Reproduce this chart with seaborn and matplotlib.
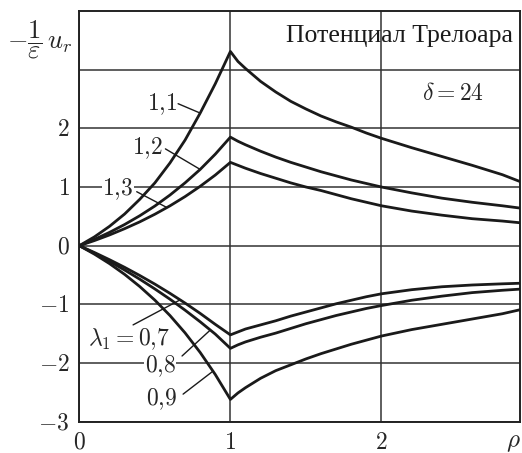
import numpy as np
import pandas as pd
import matplotlib
matplotlib.use("Agg")
import matplotlib.pyplot as plt
import seaborn as sns

# ---------------- data ----------------
rho = [0, 0.1, 0.2, 0.3, 0.4, 0.5, 0.6, 0.7, 0.8, 0.9, 1.0,
       1.05, 1.1, 1.2, 1.3, 1.4, 1.5, 1.6, 1.7, 1.8, 1.9, 2.0,
       2.2, 2.4, 2.6, 2.8, 2.92]

u_11 = [0, 0.15, 0.33, 0.54, 0.79, 1.07, 1.41, 1.80, 2.26, 2.76, 3.31,
        3.14, 3.02, 2.80, 2.62, 2.46, 2.33, 2.21, 2.11, 2.02, 1.92, 1.83,
        1.67, 1.52, 1.37, 1.21, 1.09]
u_12 = [0, 0.107, 0.227, 0.361, 0.51, 0.676, 0.863, 1.071, 1.30, 1.56, 1.85,
        1.78, 1.72, 1.61, 1.51, 1.42, 1.34, 1.26, 1.19, 1.12, 1.06, 1.00,
        0.90, 0.81, 0.74, 0.68, 0.64]
u_13 = [0, 0.087, 0.183, 0.29, 0.406, 0.536, 0.679, 0.837, 1.012, 1.204, 1.42,
        1.37, 1.32, 1.23, 1.15, 1.07, 1.00, 0.94, 0.87, 0.80, 0.74, 0.68,
        0.59, 0.52, 0.46, 0.42, 0.39]
u_07 = [0, -0.116, -0.239, -0.369, -0.508, -0.655, -0.812, -0.978, -1.154, -1.341, -1.52,
        -1.47, -1.42, -1.35, -1.28, -1.20, -1.13, -1.06, -0.99, -0.93, -0.87, -0.82,
        -0.75, -0.70, -0.67, -0.65, -0.64]
u_08 = [0, -0.13, -0.268, -0.415, -0.571, -0.737, -0.912, -1.099, -1.297, -1.507, -1.75,
        -1.69, -1.64, -1.56, -1.49, -1.41, -1.33, -1.26, -1.19, -1.13, -1.07, -1.02,
        -0.93, -0.86, -0.80, -0.76, -0.74]
u_09 = [0, -0.144, -0.306, -0.489, -0.696, -0.928, -1.19, -1.486, -1.82, -2.196, -2.62,
        -2.51, -2.42, -2.26, -2.13, -2.03, -1.93, -1.84, -1.76, -1.68, -1.61, -1.54,
        -1.43, -1.34, -1.25, -1.16, -1.09]

lambdas = ["1,1", "1,2", "1,3", "0,7", "0,8", "0,9"]
series = [u_11, u_12, u_13, u_07, u_08, u_09]

x_ticks = [0, 1, 2]
x_ticklabels = ["$0$", "$1$", "$2$"]
y_ticks = [-3, -2, -1, 0, 1, 2, 3]
y_ticklabels = ["$-3$", "$-2$", "$-1$", "$0$", "$1$", "$2$", ""]

curve_labels = ["$1{,}1$", "$1{,}2$", "$1{,}3$",
                r"$\lambda_1 = 0{,}7$", "$0{,}8$", "$0{,}9$"]

# ---------------- build table ----------------
df = pd.concat(
    [pd.DataFrame({"rho": rho, "u": s, "lam": lam})
     for lam, s in zip(lambdas, series)],
    ignore_index=True,
)

# ---------------- style ----------------
sns.set_theme(style="white")
plt.rcParams["mathtext.fontset"] = "cm"
plt.rcParams["font.family"] = ["Liberation Serif", "DejaVu Serif"]

fig = plt.figure(figsize=(5.22, 4.53), dpi=100)
ax = fig.add_axes([79.3 / 522, 31.3 / 453, (520.5 - 79.3) / 522, (421.7 - 11) / 453])

sns.lineplot(data=df, x="rho", y="u", units="lam", estimator=None, sort=False,
             color="#1a1a1a", lw=2.0, ax=ax, legend=False, zorder=3)

ax.set_xlim(0, 2.92)
ax.set_ylim(-3, 4)
ax.set_xticks(x_ticks)
ax.set_xticklabels(x_ticklabels, fontsize=17)
ax.set_yticks(y_ticks)
ax.set_yticklabels(y_ticklabels, fontsize=17)
ax.tick_params(axis="both", length=0)
ax.tick_params(axis="x", pad=8)
ax.tick_params(axis="y", pad=7)
ax.set_xlabel("")
ax.set_ylabel("")
ax.grid(True, color="#333333", lw=1.1, zorder=1)
for sp in ax.spines.values():
    sp.set_visible(True)
    sp.set_color("#222222")
    sp.set_linewidth(1.4)

# curve labels with leader lines
label_pos = [(0.548, 2.42), (0.448, 1.66), (0.256, 0.97),
             (0.329, -1.59), (0.535, -2.05), (0.542, -2.62)]
leaders = [((0.654, 2.42), (0.80, 2.26)),
           ((0.57, 1.65), (0.80, 1.30)),
           ((0.38, 0.92), (0.58, 0.65)),
           ((0.356, -1.35), (0.67, -0.92)),
           ((0.68, -1.88), (0.866, -1.44)),
           ((0.687, -2.53), (0.879, -2.15))]
for txt, (tx, ty), ((x0, y0), (x1, y1)) in zip(curve_labels, label_pos, leaders):
    ax.text(tx, ty, txt, fontsize=17, ha="center", va="center", zorder=4,
            bbox=dict(fc="white", ec="none", pad=0.5))
    ax.plot([x0, x1], [y0, y1], color="#1a1a1a", lw=1.0, zorder=4)

ax.text(2.87, 3.58, "Потенциал Трелоара", fontsize=18.5, ha="right", va="center",
        color="#1a1a1a")
ax.text(2.475, 2.59, r"$\delta = 24$", fontsize=17, ha="center", va="center")

fig.text(40 / 522, 1 - 40 / 453, r"$-\dfrac{1}{\varepsilon}\,u_r$", fontsize=19,
         ha="center", va="center")
fig.text(513 / 522, 1 - 443 / 453, r"$\rho$", fontsize=18, ha="center", va="center")

fig.savefig("out.png", dpi=100)
